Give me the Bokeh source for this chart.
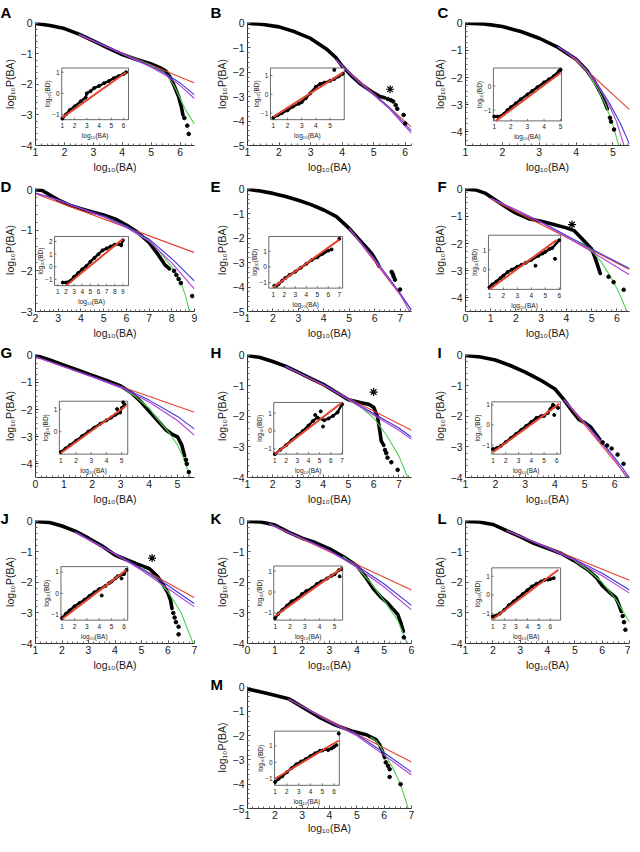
import math
import numpy as np
from bokeh.plotting import figure
from bokeh.models import Range1d, FixedTicker, CustomJSTickFormatter, Spacer
from bokeh.layouts import column, row
from bokeh.embed import file_html
from bokeh.resources import INLINE
from bokeh.core.properties import value

FONT = "Liberation Sans"
RED, BLUE, PURPLE, GREEN = "#e5432f", "#3a3ad6", "#b23fd4", "#4fd24f"

# ---------------- data ----------------
# suffixes: b = data curve, t = scattered tail points, r = red fit, u = blue fit,
# p = purple fit, g = green fit, i = inset data trend, o = inset outliers, ir = inset red fit
# A
A_bx = [1.0, 1.5, 2.0, 2.5, 3.0, 3.5, 4.0, 4.5, 5.0, 5.3, 5.5, 5.65, 5.8, 5.95, 6.05, 6.1]
A_by = [0.0, -0.07, -0.17, -0.35, -0.57, -0.8, -1.02, -1.18, -1.33, -1.45, -1.55, -1.75, -2.05, -2.4, -2.75, -3.0]
A_tx = [6.15, 6.25, 6.3]; A_ty = [-3.1, -3.35, -3.62]
A_rx = [2.5, 6.5]; A_ry = [-0.38, -1.95]
A_ux = [2.5, 4.0, 5.0, 5.5, 6.0, 6.5]; A_uy = [-0.35, -0.98, -1.4, -1.65, -1.95, -2.34]
A_px = [2.5, 4.0, 5.0, 5.5, 6.0, 6.5]; A_py = [-0.36, -1.0, -1.44, -1.7, -2.03, -2.46]
A_gx = [4.0, 5.0, 5.5, 5.8, 6.0, 6.2, 6.5]; A_gy = [-1.0, -1.38, -1.65, -2.05, -2.45, -2.85, -3.3]
A_ix = [1.0, 1.3, 1.6, 2.0, 2.5, 2.9, 3.0, 3.3, 3.6, 4.0, 4.4, 4.8, 5.2, 5.6, 6.0, 6.2]
A_iy = [-1.2, -1.0, -0.8, -0.62, -0.38, -0.2, 0.0, 0.1, 0.25, 0.35, 0.48, 0.58, 0.72, 0.82, 0.92, 1.0]
A_ox = []; A_oy = []
A_irx = [1.0, 6.2]; A_iry = [-1.15, 1.0]
# B
B_bx = [1.0, 1.5, 2.0, 2.5, 3.0, 3.5, 3.8, 4.0, 4.3, 4.6, 5.0, 5.2, 5.35]
B_by = [0.0, -0.05, -0.15, -0.35, -0.62, -1.05, -1.4, -1.75, -2.15, -2.5, -2.85, -3.0, -3.05]
B_tx = [5.45, 5.55, 5.62, 5.7, 5.75, 5.95, 6.0]; B_ty = [-3.1, -3.15, -3.2, -3.35, -3.5, -3.75, -4.1]
B_rx = [3.8, 6.2]; B_ry = [-1.5, -4.25]
B_ux = [3.8, 4.5, 5.5, 6.2]; B_uy = [-1.48, -2.35, -3.45, -4.4]
B_px = [3.8, 4.5, 5.5, 6.2]; B_py = [-1.5, -2.38, -3.5, -4.5]
B_gx = []; B_gy = []
B_ix = [1.0, 1.3, 1.6, 2.0, 2.4, 2.8, 3.0, 3.3, 3.6, 4.0, 4.3, 4.6, 5.0, 5.3, 5.6, 5.9]
B_iy = [-1.25, -1.12, -1.0, -0.85, -0.65, -0.5, -0.42, -0.2, 0.05, 0.4, 0.55, 0.62, 0.72, 0.82, 0.95, 1.1]
B_ox = [5.3]; B_oy = [1.3]
B_irx = [1.0, 5.9]; B_iry = [-1.2, 1.15]
# C
C_bx = [1.0, 1.5, 2.0, 2.5, 3.0, 3.5, 4.0, 4.3, 4.5, 4.7, 4.85]
C_by = [0.0, -0.02, -0.12, -0.3, -0.55, -0.88, -1.32, -1.75, -2.15, -2.65, -3.15]
C_tx = [4.92, 4.95, 5.03]; C_ty = [-3.48, -3.62, -3.91]
C_rx = [3.8, 5.45]; C_ry = [-1.13, -3.18]
C_ux = [3.5, 4.0, 4.3, 4.6, 4.9, 5.2, 5.45]; C_uy = [-0.85, -1.3, -1.73, -2.28, -2.93, -3.68, -4.45]
C_px = [3.5, 4.0, 4.3, 4.6, 4.9, 5.1, 5.3]; C_py = [-0.87, -1.32, -1.75, -2.33, -3.03, -3.62, -4.5]
C_gx = [4.0, 4.3, 4.6, 4.8, 5.0, 5.16]; C_gy = [-1.33, -1.78, -2.45, -3.0, -3.75, -4.5]
C_ix = [1.0, 1.2, 1.4, 1.6, 1.8, 2.0, 2.3, 2.6, 3.0, 3.3, 3.6, 4.0, 4.3, 4.6, 4.9, 5.0]
C_iy = [-1.27, -1.27, -1.25, -1.15, -1.0, -0.88, -0.72, -0.55, -0.35, -0.2, -0.05, 0.15, 0.28, 0.42, 0.62, 0.68]
C_ox = []; C_oy = []
C_irx = [1.1, 5.0]; C_iry = [-1.45, 0.55]
# D
D_bx = [2.0, 2.3, 2.6, 3.0, 3.5, 4.0, 4.5, 5.0, 5.5, 6.0, 6.5, 7.0, 7.4, 7.7, 7.9]
D_by = [0.0, -0.02, -0.12, -0.25, -0.38, -0.47, -0.55, -0.62, -0.72, -0.87, -1.05, -1.3, -1.6, -1.85, -1.95]
D_tx = [8.1, 8.2, 8.3, 8.4, 8.9]; D_ty = [-2.0, -2.1, -2.2, -2.3, -2.62]
D_rx = [2.0, 9.0]; D_ry = [-0.1, -1.55]
D_ux = [2.0, 3.0, 4.0, 5.0, 6.0, 7.0, 8.0, 9.0]; D_uy = [-0.08, -0.25, -0.45, -0.65, -0.9, -1.22, -1.7, -2.25]
D_px = [2.0, 3.0, 4.0, 5.0, 6.0, 7.0, 8.0, 9.0]; D_py = [-0.08, -0.26, -0.47, -0.67, -0.93, -1.27, -1.8, -2.45]
D_gx = [5.0, 6.0, 7.0, 7.5, 8.0, 8.35, 8.6, 8.78]; D_gy = [-0.65, -0.9, -1.25, -1.55, -1.9, -2.22, -2.6, -3.0]
D_ix = [1.6, 2.0, 2.3, 2.6, 3.0, 3.5, 4.0, 4.5, 5.0, 5.5, 6.0, 6.5, 7.0, 7.5, 8.0, 8.5, 8.8, 9.0]
D_iy = [-1.25, -1.25, -1.22, -1.1, -0.8, -0.5, -0.2, 0.05, 0.4, 0.7, 1.0, 1.3, 1.45, 1.6, 1.75, 1.8, 1.7, 2.1]
D_ox = []; D_oy = []
D_irx = [2.0, 9.0]; D_iry = [-1.5, 2.2]
# E
E_bx = [1.0, 1.5, 2.0, 2.5, 3.0, 3.5, 4.0, 4.5, 5.0, 5.3, 5.6, 5.9, 6.1, 6.17]
E_by = [0.0, -0.07, -0.17, -0.3, -0.45, -0.63, -0.85, -1.12, -1.6, -1.95, -2.3, -2.65, -3.0, -3.15]
E_tx = [6.67, 6.72, 6.75, 6.8, 7.0]; E_ty = [-3.38, -3.48, -3.58, -3.7, -4.1]
E_rx = [5.0, 7.45]; E_ry = [-1.6, -4.93]
E_ux = [5.0, 6.0, 7.0, 7.45]; E_uy = [-1.6, -2.85, -4.25, -4.95]
E_px = [5.0, 6.0, 7.0, 7.38]; E_py = [-1.6, -2.9, -4.3, -5.0]
E_gx = []; E_gy = []
E_ix = [1.1, 1.3, 1.5, 1.8, 2.1, 2.5, 3.0, 3.5, 4.0, 4.5, 5.0, 5.5, 5.7, 6.0, 6.3]
E_iy = [-1.2, -1.2, -1.08, -0.88, -0.7, -0.5, -0.3, -0.05, 0.2, 0.45, 0.62, 0.85, 0.95, 1.05, 1.12]
E_ox = [7.0]; E_oy = [1.8]
E_irx = [1.0, 7.0]; E_iry = [-1.3, 1.75]
# F
F_bx = [0.0, 0.4, 0.8, 1.2, 1.6, 2.0, 2.5, 3.0, 3.5, 4.0, 4.3, 4.6, 4.8, 5.0, 5.15, 5.28, 5.34]
F_by = [0.0, -0.02, -0.15, -0.4, -0.65, -0.88, -1.08, -1.18, -1.3, -1.42, -1.52, -1.8, -2.0, -2.2, -2.56, -2.92, -3.1]
F_tx = [5.67, 5.87, 6.27]; F_ty = [-3.22, -3.42, -3.7]
F_rx = [1.0, 6.5]; F_ry = [-0.35, -2.95]
F_ux = [1.0, 2.0, 3.0, 4.0, 5.0, 6.5]; F_uy = [-0.33, -0.75, -1.2, -1.7, -2.2, -2.92]
F_px = [1.0, 2.0, 3.0, 4.0, 5.0, 6.5]; F_py = [-0.33, -0.76, -1.22, -1.75, -2.3, -3.15]
F_gx = [4.6, 5.0, 5.4, 5.87, 6.15, 6.4]; F_gy = [-1.95, -2.25, -2.7, -3.4, -3.95, -4.5]
F_ix = [1.0, 1.2, 1.5, 1.8, 2.0, 2.3, 2.6, 3.0, 3.3, 3.6, 4.0, 4.5, 4.8, 5.0, 5.3, 5.5, 6.0]
F_iy = [-0.9, -0.75, -0.6, -0.42, -0.3, -0.12, 0.0, 0.15, 0.25, 0.35, 0.5, 0.7, 0.82, 0.9, 1.05, 1.1, 1.5]
F_ox = [4.3, 5.7]; F_oy = [0.2, 0.55]
F_irx = [1.0, 5.8]; F_iry = [-1.0, 1.5]
# G
G_bx = [0.0, 0.5, 1.0, 1.5, 2.0, 2.5, 3.0, 3.4, 3.7, 4.0, 4.3, 4.6, 4.8, 5.0, 5.15, 5.25]
G_by = [0.0, -0.17, -0.36, -0.55, -0.74, -0.93, -1.13, -1.4, -1.7, -2.05, -2.4, -2.75, -2.9, -3.0, -3.3, -3.7]
G_tx = [5.3, 5.33, 5.4]; G_ty = [-3.85, -4.0, -4.3]
G_rx = [0.0, 5.6]; G_ry = [-0.05, -2.1]
G_ux = [0.0, 2.0, 3.0, 4.0, 5.0, 5.6]; G_uy = [-0.05, -0.78, -1.16, -1.65, -2.25, -2.72]
G_px = [0.0, 2.0, 3.0, 4.0, 5.0, 5.6]; G_py = [-0.05, -0.8, -1.19, -1.72, -2.4, -2.95]
G_gx = [3.0, 3.5, 4.0, 4.3, 4.7, 5.0, 5.2, 5.45]; G_gy = [-1.15, -1.5, -1.95, -2.35, -2.85, -3.3, -3.75, -4.5]
G_ix = [1.0, 1.3, 1.6, 2.0, 2.4, 2.8, 3.2, 3.6, 4.0, 4.3, 4.6, 4.9, 5.0, 5.2]
G_iy = [-0.9, -0.75, -0.6, -0.4, -0.2, 0.0, 0.18, 0.35, 0.5, 0.62, 0.75, 0.85, 1.05, 1.2]
G_ox = [4.7, 5.1]; G_oy = [1.0, 1.3]
G_irx = [1.0, 5.3]; G_iry = [-0.95, 1.15]
# H
H_bx = [1.0, 1.5, 2.0, 2.5, 3.0, 3.5, 4.0, 4.5, 5.0, 5.5, 5.8, 6.0, 6.15, 6.25, 6.3, 6.4]
H_by = [0.0, -0.07, -0.2, -0.35, -0.55, -0.75, -0.95, -1.2, -1.45, -1.55, -1.6, -1.7, -2.0, -2.5, -2.8, -2.95]
H_tx = [6.45, 6.5, 6.55, 6.7, 6.95]; H_ty = [-3.1, -3.2, -3.35, -3.5, -3.75]
H_rx = [2.5, 7.5]; H_ry = [-0.35, -2.45]
H_ux = [2.5, 4.0, 5.0, 6.0, 7.0, 7.5]; H_uy = [-0.35, -0.95, -1.42, -1.9, -2.38, -2.68]
H_px = [2.5, 4.0, 5.0, 6.0, 7.0, 7.5]; H_py = [-0.36, -0.96, -1.45, -1.95, -2.45, -2.75]
H_gx = [5.0, 5.5, 6.0, 6.5, 7.0, 7.35]; H_gy = [-1.45, -1.7, -2.05, -2.6, -3.3, -4.0]
H_ix = [1.0, 1.5, 2.0, 2.5, 3.0, 3.5, 4.0, 4.4, 4.8, 5.4, 5.8, 6.2, 6.6, 7.0]
H_iy = [-1.3, -1.05, -0.8, -0.52, -0.25, 0.0, 0.3, 0.56, 0.75, 0.6, 0.7, 0.85, 1.05, 1.5]
H_ox = [4.6, 5.1, 5.3]; H_oy = [0.9, 1.1, 0.25]
H_irx = [1.0, 7.0]; H_iry = [-1.3, 1.6]
# I
I_bx = [1.0, 1.5, 2.0, 2.5, 3.0, 3.5, 4.0, 4.3, 4.6, 4.8, 5.0, 5.2, 5.35, 5.5]
I_by = [0.0, -0.05, -0.15, -0.33, -0.55, -0.8, -1.1, -1.45, -1.85, -2.1, -2.2, -2.35, -2.55, -2.75]
I_tx = [5.6, 5.75, 5.9, 6.1, 6.3]; I_ty = [-2.85, -2.95, -3.05, -3.25, -3.55]
I_rx = [4.3, 6.45]; I_ry = [-1.45, -4.0]
I_ux = [4.3, 5.0, 5.5, 6.0, 6.5]; I_uy = [-1.45, -2.2, -2.75, -3.35, -4.0]
I_px = [4.3, 5.0, 5.5, 6.0, 6.4]; I_py = [-1.45, -2.22, -2.8, -3.4, -4.0]
I_gx = []; I_gy = []
I_ix = [1.0, 1.3, 1.6, 2.0, 2.4, 2.8, 3.2, 3.6, 4.0, 4.4, 4.8, 5.0, 5.3, 5.5, 5.7, 6.1]
I_iy = [-1.2, -1.15, -1.05, -0.85, -0.65, -0.45, -0.25, -0.05, 0.15, 0.35, 0.45, 0.45, 0.6, 0.8, 1.0, 0.85]
I_ox = [5.8]; I_oy = [0.5]
I_irx = [1.0, 6.2]; I_iry = [-1.35, 1.05]
# J
J_bx = [1.0, 1.5, 2.0, 2.5, 3.0, 3.5, 4.0, 4.5, 5.0, 5.3, 5.6, 5.8, 6.0, 6.1, 6.15]
J_by = [0.0, -0.03, -0.15, -0.32, -0.55, -0.8, -1.1, -1.28, -1.45, -1.55, -1.8, -2.05, -2.35, -2.6, -2.85]
J_tx = [6.2, 6.25, 6.3, 6.4, 6.4]; J_ty = [-3.0, -3.15, -3.3, -3.45, -3.7]
J_rx = [2.5, 7.0]; J_ry = [-0.35, -2.5]
J_ux = [2.5, 4.0, 5.0, 6.0, 7.0]; J_uy = [-0.35, -1.05, -1.55, -2.1, -2.7]
J_px = [2.5, 4.0, 5.0, 6.0, 7.0]; J_py = [-0.36, -1.07, -1.6, -2.2, -2.8]
J_gx = [5.0, 5.5, 6.0, 6.5, 6.95]; J_gy = [-1.5, -1.85, -2.3, -3.0, -4.0]
J_ix = [1.0, 1.3, 1.6, 2.0, 2.4, 2.8, 3.2, 3.6, 4.0, 4.5, 4.8, 5.0, 5.3, 5.5, 6.0, 6.2]
J_iy = [-1.15, -0.95, -0.8, -0.6, -0.45, -0.3, -0.12, 0.05, 0.2, 0.35, 0.48, 0.55, 0.7, 0.8, 0.9, 1.1]
J_ox = [4.2, 5.8]; J_oy = [-0.1, 0.7]
J_irx = [1.0, 6.2]; J_iry = [-1.2, 1.1]
# K
K_bx = [0.0, 0.5, 1.0, 1.5, 2.0, 2.5, 3.0, 3.5, 4.0, 4.3, 4.6, 4.9, 5.1, 5.3, 5.5, 5.6, 5.7]
K_by = [0.0, -0.02, -0.12, -0.35, -0.55, -0.7, -0.9, -1.15, -1.45, -1.8, -2.2, -2.5, -2.65, -2.85, -3.05, -3.3, -3.6]
K_tx = [5.72]; K_ty = [-3.8]
K_rx = [0.8, 6.0]; K_ry = [-0.08, -2.25]
K_ux = [0.8, 2.0, 3.0, 4.0, 5.0, 6.0]; K_uy = [-0.08, -0.55, -0.95, -1.45, -2.05, -2.75]
K_px = [0.8, 2.0, 3.0, 4.0, 5.0, 6.0]; K_py = [-0.08, -0.56, -0.97, -1.5, -2.15, -2.9]
K_gx = [3.5, 4.0, 4.5, 5.0, 5.5, 5.85]; K_gy = [-1.15, -1.5, -2.0, -2.6, -3.25, -4.0]
K_ix = [1.0, 1.2, 1.5, 1.8, 2.1, 2.5, 2.8, 3.1, 3.5, 3.8, 4.1, 4.5, 4.8, 5.0, 5.3, 5.45]
K_iy = [-1.25, -1.05, -0.85, -0.65, -0.45, -0.3, -0.1, 0.05, 0.2, 0.38, 0.5, 0.65, 0.78, 0.85, 1.05, 1.1]
K_ox = [5.35]; K_oy = [0.75]
K_irx = [1.0, 5.5]; K_iry = [-1.15, 1.15]
# L
L_bx = [1.0, 1.5, 2.0, 2.5, 3.0, 3.5, 4.0, 4.5, 5.0, 5.5, 5.8, 6.0, 6.3, 6.5, 6.6, 6.7]
L_by = [0.0, -0.02, -0.1, -0.3, -0.5, -0.72, -0.88, -1.05, -1.3, -1.6, -1.85, -2.1, -2.35, -2.5, -2.7, -2.95]
L_tx = [6.75, 6.8, 6.85]; L_ty = [-3.1, -3.3, -3.55]
L_rx = [2.5, 7.0]; L_ry = [-0.3, -1.93]
L_ux = [2.5, 4.0, 5.0, 6.0, 7.0]; L_uy = [-0.3, -0.85, -1.25, -1.7, -2.25]
L_px = [2.5, 4.0, 5.0, 6.0, 7.0]; L_py = [-0.3, -0.87, -1.28, -1.78, -2.35]
L_gx = [5.0, 5.5, 6.0, 6.5, 7.0]; L_gy = [-1.3, -1.6, -2.0, -2.55, -3.3]
L_ix = [1.0, 1.3, 1.6, 2.0, 2.4, 2.8, 3.2, 3.6, 4.0, 4.4, 4.8, 5.2, 5.5, 5.8, 6.0, 6.3]
L_iy = [-1.15, -1.1, -1.0, -0.8, -0.55, -0.35, -0.15, 0.05, 0.25, 0.45, 0.6, 0.72, 0.8, 0.82, 0.85, 0.9]
L_ox = []; L_oy = []
L_irx = [1.0, 6.7]; L_iry = [-1.3, 1.35]
# M
M_bx = [1.0, 1.77, 2.5, 3.0, 3.6, 4.2, 4.85, 5.35, 5.7, 5.83, 5.96, 6.02]
M_by = [-0.07, -0.27, -0.47, -0.81, -1.22, -1.55, -1.82, -1.96, -2.16, -2.36, -2.7, -2.9]
M_tx = [6.06, 6.14, 6.2, 6.2, 6.6]; M_ty = [-3.1, -3.24, -3.38, -3.7, -4.0]
M_rx = [2.5, 7.0]; M_ry = [-0.5, -3.08]
M_ux = [2.5, 4.0, 5.0, 6.0, 7.0]; M_uy = [-0.48, -1.4, -1.95, -2.7, -3.5]
M_px = [2.5, 4.0, 5.0, 6.0, 7.0]; M_py = [-0.49, -1.42, -2.0, -2.8, -3.62]
M_gx = [5.5, 5.7, 6.0, 6.3, 6.6, 6.88]; M_gy = [-2.05, -2.2, -2.7, -3.3, -4.0, -5.0]
M_ix = [1.0, 1.3, 1.6, 2.0, 2.4, 2.8, 3.2, 3.6, 4.0, 4.4, 4.8, 5.0, 5.3, 5.5, 5.8, 6.0, 6.2]
M_iy = [-1.2, -1.0, -0.85, -0.6, -0.35, -0.12, 0.05, 0.2, 0.38, 0.55, 0.7, 0.72, 0.8, 0.75, 0.85, 0.95, 1.05]
M_ox = [6.4]; M_oy = [1.75]
M_irx = [1.0, 6.4]; M_iry = [-1.0, 1.33]

# asterisk markers
STAR_X = {"B": 5.52, "F": 4.22, "H": 6.0, "J": 5.4}
STAR_Y = {"B": -2.7, "F": -1.3, "H": -1.2, "J": -1.2}

# axis tick labels
TICKS_X = {"A": [1, 2, 3, 4, 5, 6], "B": [1, 2, 3, 4, 5, 6], "C": [1, 2, 3, 4, 5],
           "D": [2, 3, 4, 5, 6, 7, 8, 9], "E": [1, 2, 3, 4, 5, 6, 7], "F": [0, 1, 2, 3, 4, 5, 6],
           "G": [0, 1, 2, 3, 4, 5], "H": [1, 2, 3, 4, 5, 6, 7], "I": [1, 2, 3, 4, 5, 6],
           "J": [1, 2, 3, 4, 5, 6, 7], "K": [0, 1, 2, 3, 4, 5, 6], "L": [1, 2, 3, 4, 5, 6, 7],
           "M": [1, 2, 3, 4, 5, 6, 7]}
TICKS_Y = {"A": [0, -1, -2, -3, -4], "B": [0, -1, -2, -3, -4, -5], "C": [0, -1, -2, -3, -4],
           "D": [0, -1, -2, -3], "E": [0, -1, -2, -3, -4, -5], "F": [0, -1, -2, -3, -4],
           "G": [0, -1, -2, -3, -4], "H": [0, -1, -2, -3, -4], "I": [0, -1, -2, -3, -4],
           "J": [0, -1, -2, -3, -4], "K": [0, -1, -2, -3, -4], "L": [0, -1, -2, -3, -4],
           "M": [0, -1, -2, -3, -4, -5]}
INSET_TX = {"A": [1, 2, 3, 4, 5, 6], "B": [1, 2, 3, 4, 5], "C": [1, 2, 3, 4, 5],
            "D": [1, 2, 3, 4, 5, 6, 7, 8, 9], "E": [1, 2, 3, 4, 5, 6, 7], "F": [1, 2, 3, 4, 5, 6],
            "G": [1, 2, 3, 4, 5], "H": [1, 2, 3, 4, 5, 6, 7], "I": [1, 2, 3, 4, 5, 6],
            "J": [1, 2, 3, 4, 5, 6], "K": [1, 2, 3, 4, 5], "L": [1, 2, 3, 4, 5, 6],
            "M": [1, 2, 3, 4, 5, 6]}
INSET_TY = {"A": [-1, 0, 1], "B": [-1, 0, 1], "C": [-1, 0], "D": [-1, 0, 1, 2], "E": [-1, 0, 1],
            "F": [0, 1], "G": [0, 1], "H": [-1, 0, 1], "I": [-1, 0, 1], "J": [-1, 0, 1],
            "K": [-1, 0, 1], "L": [-1, 0, 1], "M": [-1, 0, 1]}

# ---------------- layout (ranges, inset placement) ----------------
XR = {"A": (1, 6.5), "B": (1, 6.2), "C": (1, 5.45), "D": (2, 9), "E": (1, 7.45), "F": (0, 6.5),
      "G": (0, 5.6), "H": (1, 7.5), "I": (1, 6.5), "J": (1, 7), "K": (0, 6), "L": (1, 7), "M": (1, 7)}
YR = {"A": -4, "B": -5, "C": -4.5, "D": -3, "E": -5, "F": -4.5, "G": -4.5, "H": -4, "I": -4,
      "J": -4, "K": -4, "L": -4, "M": -5}
IXR = {"A": (0.95, 6.4), "B": (0.8, 6.0), "C": (0.95, 5.05), "D": (0.6, 9.7), "E": (0.6, 7.3),
       "F": (0.93, 6.1), "G": (0.9, 5.4), "H": (0.9, 7.05), "I": (0.9, 6.3), "J": (0.9, 6.3),
       "K": (0.9, 5.55), "L": (0.9, 6.9), "M": (0.95, 6.45)}
IYR = {"A": (-1.25, 1.2), "B": (-1.35, 1.4), "C": (-1.45, 0.75), "D": (-1.5, 2.4), "E": (-1.35, 1.95),
       "F": (-1.0, 1.75), "G": (-1.0, 1.35), "H": (-1.3, 1.6), "I": (-1.45, 1.15), "J": (-1.25, 1.25),
       "K": (-1.35, 1.25), "L": (-1.35, 1.45), "M": (-1.4, 1.9)}
BOX = {"A": (0.165, 0.585, 0.37, 0.79), "B": (0.14, 0.59, 0.37, 0.79), "C": (0.17, 0.585, 0.37, 0.80),
       "D": (0.12, 0.585, 0.39, 0.79), "E": (0.13, 0.58, 0.39, 0.81), "F": (0.14, 0.58, 0.38, 0.82),
       "G": (0.15, 0.58, 0.38, 0.81), "H": (0.16, 0.58, 0.39, 0.81), "I": (0.16, 0.58, 0.385, 0.81),
       "J": (0.16, 0.58, 0.375, 0.81), "K": (0.16, 0.58, 0.37, 0.81), "L": (0.16, 0.58, 0.385, 0.81),
       "M": (0.165, 0.56, 0.366, 0.81)}

G_ = globals()
FW, FH = 164, 123
YTOP = 0.03


def minus(t):
    return ("\u2212" + str(abs(t))) if t < 0 else str(t)


def make_panel(key, col, rowi):
    lb = [30, 37, 45][col]
    rb = [16, 9, 1][col]
    tb = 22 if rowi == 0 else 11
    bb = 27 if rowi == 4 else 32
    xr = XR[key]
    y0, y1 = YR[key], YTOP
    p = figure(width=lb + FW + rb, height=tb + FH + bb,
               x_range=Range1d(xr[0], xr[1]), y_range=Range1d(y0, y1),
               output_backend="svg", toolbar_location=None, tools="",
               min_border_left=lb, min_border_right=rb, min_border_top=tb, min_border_bottom=bb)
    p.outline_line_color = None
    p.xgrid.visible = False
    p.ygrid.visible = False
    fmt = CustomJSTickFormatter(code="return (tick < 0 ? '\u2212' : '') + Math.abs(tick);")
    xminor = [float(v) for v in np.arange(xr[0], xr[1] + 1e-9, 0.2)]
    yminor = [float(v) for v in np.arange(YR[key], 0.001, 0.2)]
    p.xaxis.ticker = FixedTicker(ticks=TICKS_X[key], minor_ticks=xminor)
    p.yaxis.ticker = FixedTicker(ticks=TICKS_Y[key], minor_ticks=yminor)
    for ax in (p.xaxis[0], p.yaxis[0]):
        ax.formatter = fmt
        ax.major_tick_in = 3
        ax.major_tick_out = 0
        ax.minor_tick_in = 2
        ax.minor_tick_out = 0
        ax.axis_line_color = "#333333"
        ax.major_tick_line_color = "#333333"
        ax.minor_tick_line_color = "#666666"
        ax.major_label_text_font = FONT
        ax.major_label_text_font_size = "10.5px"
        ax.major_label_text_color = "#1a1a1a"
        ax.axis_label_text_font = FONT
        ax.axis_label_text_font_size = "10.5px"
        ax.axis_label_text_font_style = "normal"
        ax.axis_label_text_color = "#1a1a1a"
    p.xaxis.major_label_standoff = 2
    p.yaxis.major_label_standoff = 3
    p.xaxis.axis_label = "log\u2081\u2080(BA)"
    p.yaxis.axis_label = "log\u2081\u2080P(BA)"
    p.xaxis.axis_label_standoff = 0 if rowi == 4 else 2
    p.yaxis.axis_label_standoff = 2

    # panel letter as the plot title, pulled to the left of the frame
    p.title.text = key
    p.title.align = "left"
    p.title.offset = [-35, -37, -28][col]
    p.title.text_font = FONT
    p.title.text_font_size = "15px"
    p.title.text_font_style = "bold"
    p.title.text_color = "black"
    if rowi == 0:
        p.title.vertical_align = "top"
        p.title.standoff = 0
    else:
        p.title.vertical_align = "bottom"
        try:
            p.title.standoff = -12
        except Exception:
            p.title.standoff = 0

    # main curves
    p.line(G_[key + "_bx"], G_[key + "_by"], line_color="black", line_width=3.6, line_join="round", line_cap="round")
    p.line(G_[key + "_rx"], G_[key + "_ry"], line_color=RED, line_width=1.1)
    if G_[key + "_gx"]:
        p.line(G_[key + "_gx"], G_[key + "_gy"], line_color=GREEN, line_width=1.1)
    p.line(G_[key + "_ux"], G_[key + "_uy"], line_color=BLUE, line_width=1.1)
    p.line(G_[key + "_px"], G_[key + "_py"], line_color=PURPLE, line_width=1.1)
    p.scatter(G_[key + "_tx"], G_[key + "_ty"], size=3.6, color="black")
    if key in STAR_X:
        p.scatter([STAR_X[key]], [STAR_Y[key]], marker="asterisk", size=8, line_color="black", line_width=1.2)

    # inset placed by mapping its data range onto a sub-box of the frame
    fx0, fx1, fy0, fy1 = BOX[key]
    gy0, gy1 = 1 - fy1, 1 - fy0
    ix0, ix1 = IXR[key]
    iy0, iy1 = IYR[key]
    sx = (ix1 - ix0) / (fx1 - fx0)
    sy = (iy1 - iy0) / (gy1 - gy0)
    p.extra_x_ranges = {"ix": Range1d(ix0 - fx0 * sx, ix0 - fx0 * sx + sx)}
    p.extra_y_ranges = {"iy": Range1d(iy0 - gy0 * sy, iy0 - gy0 * sy + sy)}
    kw = dict(x_range_name="ix", y_range_name="iy")
    bw = (fx1 - fx0) * FW
    bh = (fy1 - fy0) * FH
    dx = (ix1 - ix0) / bw
    dy = (iy1 - iy0) / bh
    # white backing under the inset's outer tick labels (left and below only)
    p.quad(left=[ix0 - 22 * dx], right=[ix1], bottom=[iy0 - 20 * dy], top=[iy1],
           fill_color="white", line_color=None, **kw)
    p.quad(left=[ix0], right=[ix1], bottom=[iy0], top=[iy1], fill_color="white",
           line_color="#444444", line_width=0.8, **kw)
    tx = INSET_TX[key]
    ty = INSET_TY[key]
    p.segment(x0=tx, y0=[iy0] * len(tx), x1=tx, y1=[iy0 + 2 * dy] * len(tx), line_color="#444444", line_width=0.7, **kw)
    p.segment(x0=[ix0] * len(ty), y0=ty, x1=[ix0 + 2 * dx] * len(ty), y1=ty, line_color="#444444", line_width=0.7, **kw)
    p.line(G_[key + "_ix"], G_[key + "_iy"], line_color="black", line_width=2.4, line_join="round", **kw)
    p.scatter(G_[key + "_ix"], G_[key + "_iy"], size=3.0, color="black", **kw)
    if G_[key + "_ox"]:
        p.scatter(G_[key + "_ox"], G_[key + "_oy"], size=3.0, color="black", **kw)
    p.line(G_[key + "_irx"], G_[key + "_iry"], line_color=RED, line_width=2.0, **kw)
    tfont = dict(text_font=value(FONT), text_font_size="6.5px", text_color="#222222")
    p.text(x=tx, y=[iy0] * len(tx), text=[minus(t) for t in tx], text_align="center",
           text_baseline="middle", y_offset=6, **tfont, **kw)
    p.text(x=[ix0] * len(ty), y=ty, text=[minus(t) for t in ty], text_align="right",
           text_baseline="middle", x_offset=-2, **tfont, **kw)
    p.text(x=[(ix0 + ix1) / 2], y=[iy0], text=["log\u2081\u2080(BA)"], text_align="center",
           text_baseline="middle", y_offset=16, **tfont, **kw)
    p.text(x=[ix0], y=[(iy0 + iy1) / 2], text=["log\u2081\u2080(BD)"], text_align="center",
           text_baseline="middle", x_offset=-14, angle=math.pi / 2, **tfont, **kw)
    return p


ORDER = [["A", "B", "C"], ["D", "E", "F"], ["G", "H", "I"], ["J", "K", "L"], [None, "M", None]]
rows = []
for ri, keys in enumerate(ORDER):
    items = []
    for ci, k in enumerate(keys):
        if k is None:
            items.append(Spacer(width=210, height=11 + FH + 27))
        else:
            items.append(make_panel(k, ci, ri))
    rows.append(row(*items))
layout = column(*rows)

open("out.html", "w").write(file_html(layout, INLINE))
